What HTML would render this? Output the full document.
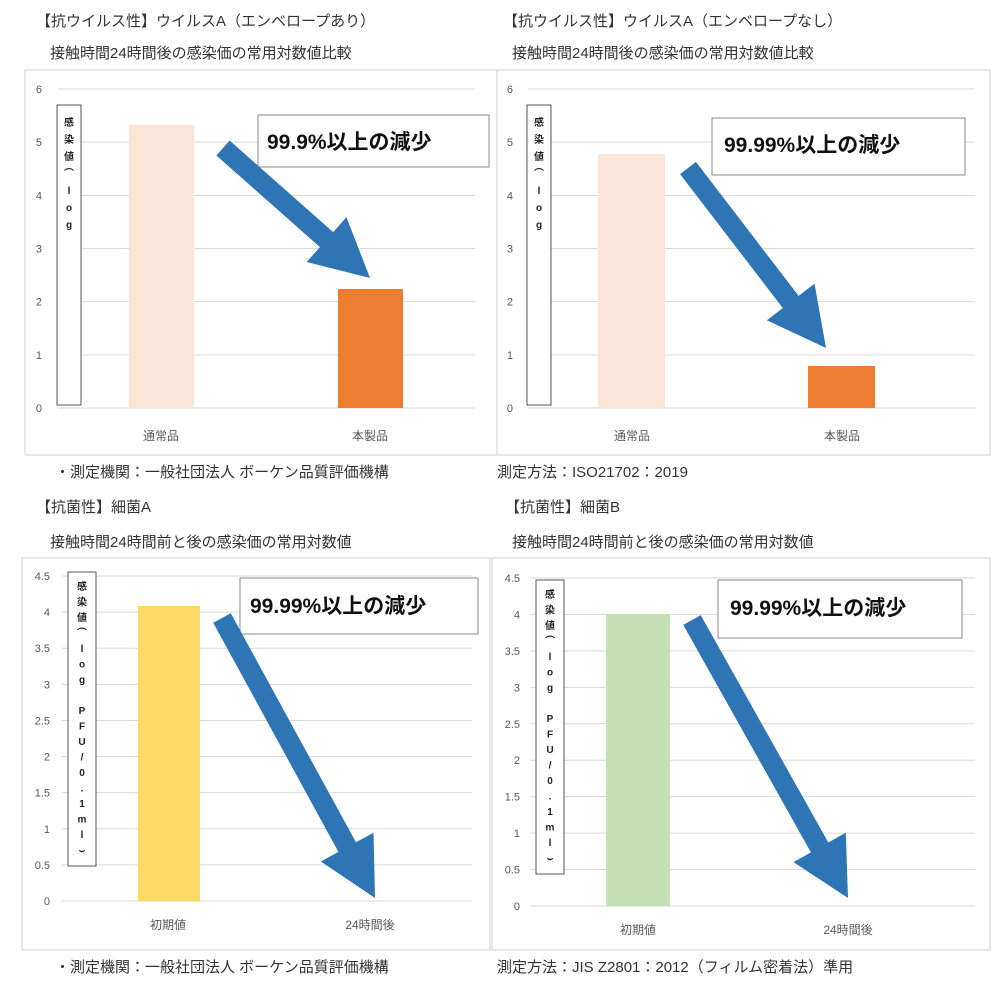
<!DOCTYPE html>
<html><head><meta charset="utf-8">
<style>
html,body{margin:0;padding:0;background:#fff}
svg{display:block}
text{font-family:"Liberation Sans","Noto Sans CJK JP",sans-serif}
.t{font-size:15px;fill:#333}
.tk{font-size:11px;fill:#595959}
.cat{font-size:12px;fill:#595959}
.co{font-size:21px;font-weight:bold;fill:#111}
.g{stroke:#d9d9d9;stroke-width:1}
.vl{font-size:10px;fill:#222;font-weight:bold}
</style></head><body>
<svg id="s" width="1000" height="1000" viewBox="0 0 1000 1000">
<text class="t" x="36" y="26">【抗ウイルス性】ウイルスA（エンベロープあり）</text>
<text class="t" x="50" y="58">接触時間24時間後の感染価の常用対数値比較</text>
<text class="t" x="503" y="26">【抗ウイルス性】ウイルスA（エンベロープなし）</text>
<text class="t" x="512" y="58">接触時間24時間後の感染価の常用対数値比較</text>
<text class="t" x="55" y="477">・測定機関：一般社団法人 ボーケン品質評価機構</text>
<text class="t" x="497" y="477">測定方法：ISO21702：2019</text>
<text class="t" x="36" y="512">【抗菌性】細菌A</text>
<text class="t" x="50" y="547">接触時間24時間前と後の感染価の常用対数値</text>
<text class="t" x="505" y="512">【抗菌性】細菌B</text>
<text class="t" x="512" y="547">接触時間24時間前と後の感染価の常用対数値</text>
<text class="t" x="55" y="972">・測定機関：一般社団法人 ボーケン品質評価機構</text>
<text class="t" x="497" y="972">測定方法：JIS Z2801：2012（フィルム密着法）準用</text>
<rect x="25" y="70" width="472" height="385" fill="none" stroke="#d0d0d0"/>
<rect x="497" y="70" width="493" height="385" fill="none" stroke="#d0d0d0"/>
<rect x="22" y="558" width="468" height="392" fill="none" stroke="#d0d0d0"/>
<rect x="492" y="558" width="498" height="392" fill="none" stroke="#d0d0d0"/>
<g id="grids"></g>
<rect x="129" y="125" width="65" height="283" fill="#fbe5d6"/>
<rect x="338" y="289" width="65" height="119" fill="#ed7d31"/>
<rect x="598" y="154" width="67" height="254" fill="#fbe5d6"/>
<rect x="808" y="366" width="67" height="42" fill="#ed7d31"/>
<rect x="138" y="606" width="62" height="295" fill="#ffd966"/>
<rect x="606" y="614" width="64" height="292" fill="#c5e0b4"/>
<text class="cat" x="161" y="440" text-anchor="middle">通常品</text>
<text class="cat" x="370" y="440" text-anchor="middle">本製品</text>
<text class="cat" x="632" y="440" text-anchor="middle">通常品</text>
<text class="cat" x="842" y="440" text-anchor="middle">本製品</text>
<text class="cat" x="168" y="929" text-anchor="middle">初期値</text>
<text class="cat" x="370" y="929" text-anchor="middle">24時間後</text>
<text class="cat" x="638" y="934" text-anchor="middle">初期値</text>
<text class="cat" x="848" y="934" text-anchor="middle">24時間後</text>
<rect x="57" y="105" width="24" height="300" fill="#fff" stroke="#555"/>
<rect x="527" y="105" width="24" height="300" fill="#fff" stroke="#555"/>
<rect x="68" y="572" width="28" height="294" fill="#fff" stroke="#555"/>
<rect x="536" y="580" width="28" height="294" fill="#fff" stroke="#555"/>
<g id="vl"></g>
<rect x="258" y="115" width="231" height="52" fill="#fff" stroke="#888"/>
<text class="co" x="267" y="149">99.9%以上の減少</text>
<rect x="712" y="118" width="253" height="57" fill="#fff" stroke="#888"/>
<text class="co" x="724" y="152">99.99%以上の減少</text>
<rect x="240" y="578" width="238" height="56" fill="#fff" stroke="#888"/>
<text class="co" x="250" y="613">99.99%以上の減少</text>
<rect x="718" y="580" width="244" height="58" fill="#fff" stroke="#888"/>
<text class="co" x="730" y="615">99.99%以上の減少</text>
<g id="arrows"></g>
</svg>
<script>
var NS="http://www.w3.org/2000/svg";
function el(p,n,a,txt){var e=document.createElementNS(NS,n);for(var k in a)e.setAttribute(k,a[k]);if(txt!==undefined)e.textContent=txt;document.getElementById(p).appendChild(e);}
function axis(x0,x1,lx,y0,yTop,max,step,dec){
  var n=Math.round(max/step);
  for(var i=0;i<=n;i++){var v=i*step;var y=y0-(y0-yTop)*v/max;
    el("grids","line",{x1:x0,x2:x1,y1:y,y2:y,"class":"g"});
    el("grids","text",{x:lx,y:y+4,"class":"tk","text-anchor":"end"},dec?String(+v.toFixed(1)):String(v));}
}
axis(58,475,42,408,89,6,1,false);
axis(528,975,513,408,89,6,1,false);
axis(62,472,50,901,576,4.5,0.5,true);
axis(530,975,520,906,578,4.5,0.5,true);
function vl(x,y,chars,dy){for(var i=0;i<chars.length;i++){if(chars[i]!==" ")el("vl","text",{x:x,y:y+i*dy,"class":"vl","text-anchor":"middle"},chars[i]);}}
vl(69,126,["感","染","値","⌒","l","o","g"],17);
vl(539,126,["感","染","値","⌒","l","o","g"],17);
vl(82,590,["感","染","値","⌒","l","o","g"," ","P","F","U","/","0",".","1","m","l","⌣"],15.5);
vl(550,598,["感","染","値","⌒","l","o","g"," ","P","F","U","/","0",".","1","m","l","⌣"],15.5);
function arrow(x1,y1,x2,y2,sw,hw,hl){
  var dx=x2-x1,dy=y2-y1,L=Math.hypot(dx,dy),ux=dx/L,uy=dy/L,px=-uy,py=ux;
  var bx=x2-ux*hl,by=y2-uy*hl;
  var pts=[[x1+px*sw,y1+py*sw],[bx+px*sw,by+py*sw],[bx+px*hw,by+py*hw],[x2,y2],[bx-px*hw,by-py*hw],[bx-px*sw,by-py*sw],[x1-px*sw,y1-py*sw]];
  el("arrows","polygon",{points:pts.map(function(p){return p.join(",")}).join(" "),fill:"#2e75b6"});
}
arrow(223,148,370,278,10,30,58);
arrow(688,168,826,348,10,30,58);
arrow(222,618,375,898,10,30,58);
arrow(692,620,848,898,10,30,58);
</script>
</body></html>
